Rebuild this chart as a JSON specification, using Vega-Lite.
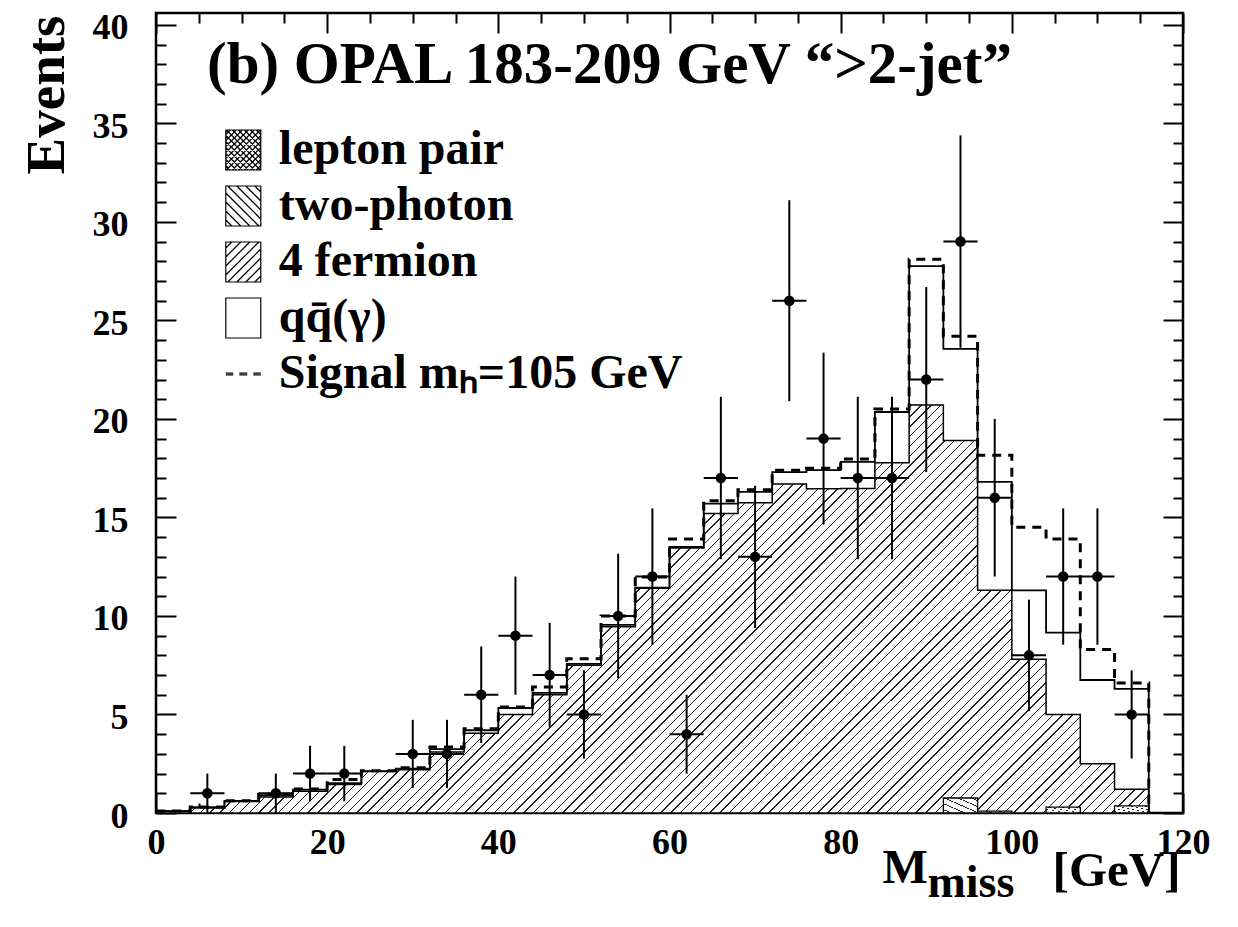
{
"$schema": "https://vega.github.io/schema/vega-lite/v6.json",
"width": 1027, "height": 800,
"autosize": {"type": "none"},
"padding": {"left": 156, "top": 13, "right": 55, "bottom": 114},
"background": "white",
"config": {
  "view": {"stroke": "black", "strokeWidth": 2.5},
  "axis": {"domain": false, "grid": false, "tickColor": "black", "tickWidth": 2, "labelFont": "Liberation Serif", "labelFontWeight": "bold", "labelColor": "black", "titleFont": "Liberation Serif", "titleFontWeight": "bold", "titleColor": "black", "labelFlush": false, "labelOverlap": false, "labelBound": false}
},
"title": {"text": "(b) OPAL 183-209 GeV “>2-jet”", "anchor": "start", "frame": "group", "offset": 0, "dx": 51, "dy": 132, "baseline": "alphabetic", "font": "Liberation Serif", "fontSize": 59, "fontWeight": "bold", "color": "black"},
"datasets": {
  "bins": [
    {"m": 0, "bkg4f": 0.1, "tot": 0.1, "sig": 0.1},
    {"m": 4, "bkg4f": 0.25, "tot": 0.3, "sig": 0.3},
    {"m": 8, "bkg4f": 0.58, "tot": 0.61, "sig": 0.62},
    {"m": 12, "bkg4f": 0.81, "tot": 0.9, "sig": 0.95},
    {"m": 16, "bkg4f": 1.1, "tot": 1.19, "sig": 1.22},
    {"m": 20, "bkg4f": 1.45, "tot": 1.52, "sig": 1.7},
    {"m": 24, "bkg4f": 2.1, "tot": 2.13, "sig": 2.15},
    {"m": 28, "bkg4f": 2.2, "tot": 2.25, "sig": 2.3},
    {"m": 32, "bkg4f": 3.1, "tot": 3.24, "sig": 3.35},
    {"m": 36, "bkg4f": 4.05, "tot": 4.2, "sig": 4.28},
    {"m": 40, "bkg4f": 5.0, "tot": 5.33, "sig": 5.38},
    {"m": 44, "bkg4f": 6.0, "tot": 6.1, "sig": 6.4},
    {"m": 48, "bkg4f": 7.5, "tot": 7.57, "sig": 7.83},
    {"m": 52, "bkg4f": 9.45, "tot": 9.55, "sig": 10.0},
    {"m": 56, "bkg4f": 11.4, "tot": 11.44, "sig": 11.98},
    {"m": 60, "bkg4f": 13.45, "tot": 13.5, "sig": 13.9},
    {"m": 64, "bkg4f": 15.2, "tot": 15.7, "sig": 15.85},
    {"m": 68, "bkg4f": 15.75, "tot": 16.3, "sig": 16.4},
    {"m": 72, "bkg4f": 16.7, "tot": 17.3, "sig": 17.4},
    {"m": 76, "bkg4f": 16.45, "tot": 17.4, "sig": 17.5},
    {"m": 80, "bkg4f": 16.47, "tot": 17.82, "sig": 17.97},
    {"m": 84, "bkg4f": 17.77, "tot": 20.35, "sig": 20.5},
    {"m": 88, "bkg4f": 20.7, "tot": 27.75, "sig": 28.1},
    {"m": 92, "bkg4f": 18.9, "tot": 23.55, "sig": 24.2},
    {"m": 96, "bkg4f": 11.3, "tot": 16.8, "sig": 18.15},
    {"m": 100, "bkg4f": 7.8, "tot": 11.3, "sig": 14.5},
    {"m": 104, "bkg4f": 5.0, "tot": 9.15, "sig": 13.9},
    {"m": 108, "bkg4f": 2.5, "tot": 6.75, "sig": 8.3},
    {"m": 112, "bkg4f": 1.2, "tot": 6.3, "sig": 6.6},
    {"m": 116, "bkg4f": 0, "tot": 0, "sig": 0}
  ],
  "gg": [
    {"lo": 92, "hi": 96, "val": 0.76},
    {"lo": 96, "hi": 100, "val": 0.1},
    {"lo": 104, "hi": 108, "val": 0.3},
    {"lo": 112, "hi": 116, "val": 0.36}
  ],
  "obs": [
    {"m": 6, "n": 1, "lo": 0, "hi": 2, "mlo": 4, "mhi": 8},
    {"m": 14, "n": 1, "lo": 0, "hi": 2, "mlo": 12, "mhi": 16},
    {"m": 18, "n": 2, "lo": 0.59, "hi": 3.41, "mlo": 16, "mhi": 20},
    {"m": 22, "n": 2, "lo": 0.59, "hi": 3.41, "mlo": 20, "mhi": 24},
    {"m": 30, "n": 3, "lo": 1.27, "hi": 4.73, "mlo": 28, "mhi": 32},
    {"m": 34, "n": 3, "lo": 1.27, "hi": 4.73, "mlo": 32, "mhi": 36},
    {"m": 38, "n": 6, "lo": 3.55, "hi": 8.45, "mlo": 36, "mhi": 40},
    {"m": 42, "n": 9, "lo": 6, "hi": 12, "mlo": 40, "mhi": 44},
    {"m": 46, "n": 7, "lo": 4.35, "hi": 9.65, "mlo": 44, "mhi": 48},
    {"m": 50, "n": 5, "lo": 2.76, "hi": 7.24, "mlo": 48, "mhi": 52},
    {"m": 54, "n": 10, "lo": 6.84, "hi": 13.16, "mlo": 52, "mhi": 56},
    {"m": 58, "n": 12, "lo": 8.54, "hi": 15.46, "mlo": 56, "mhi": 60},
    {"m": 62, "n": 4, "lo": 2, "hi": 6, "mlo": 60, "mhi": 64},
    {"m": 66, "n": 17, "lo": 12.88, "hi": 21.12, "mlo": 64, "mhi": 68},
    {"m": 70, "n": 13, "lo": 9.39, "hi": 16.61, "mlo": 68, "mhi": 72},
    {"m": 74, "n": 26, "lo": 20.9, "hi": 31.1, "mlo": 72, "mhi": 76},
    {"m": 78, "n": 19, "lo": 14.64, "hi": 23.36, "mlo": 76, "mhi": 80},
    {"m": 82, "n": 17, "lo": 12.88, "hi": 21.12, "mlo": 80, "mhi": 84},
    {"m": 86, "n": 17, "lo": 12.88, "hi": 21.12, "mlo": 84, "mhi": 88},
    {"m": 90, "n": 22, "lo": 17.31, "hi": 26.69, "mlo": 88, "mhi": 92},
    {"m": 94, "n": 29, "lo": 23.61, "hi": 34.39, "mlo": 92, "mhi": 96},
    {"m": 98, "n": 16, "lo": 12, "hi": 20, "mlo": 96, "mhi": 100},
    {"m": 102, "n": 8, "lo": 5.17, "hi": 10.83, "mlo": 100, "mhi": 104},
    {"m": 106, "n": 12, "lo": 8.54, "hi": 15.46, "mlo": 104, "mhi": 108},
    {"m": 110, "n": 12, "lo": 8.54, "hi": 15.46, "mlo": 108, "mhi": 112},
    {"m": 114, "n": 5, "lo": 2.76, "hi": 7.24, "mlo": 112, "mhi": 116}
  ],
  "legend": [
    {"comp": "lepton pair"}, {"comp": "two-photon"}, {"comp": "4 fermion"}, {"comp": "qq̄(γ)"}, {"comp": "Signal mₕ=105 GeV"}
  ]
},
"layer": [
  {
    "data": {"name": "bins"},
    "mark": {"type": "area", "interpolate": "step-after", "stroke": "black", "strokeWidth": 1.5,
      "fill": {"gradient": "linear", "x1": 0, "y1": 0, "x2": 1.2071, "y2": 0.496, "stops": [
{"offset":0,"color":"#fff"},
{"offset":0.280,"color":"#fff"},{"offset":0.280,"color":"#222"},{"offset":0.281,"color":"#222"},{"offset":0.281,"color":"#fff"},
{"offset":0.287,"color":"#fff"},{"offset":0.287,"color":"#222"},{"offset":0.288,"color":"#222"},{"offset":0.288,"color":"#fff"},
{"offset":0.294,"color":"#fff"},{"offset":0.294,"color":"#222"},{"offset":0.295,"color":"#222"},{"offset":0.295,"color":"#fff"},
{"offset":0.301,"color":"#fff"},{"offset":0.301,"color":"#222"},{"offset":0.302,"color":"#222"},{"offset":0.302,"color":"#fff"},
{"offset":0.308,"color":"#fff"},{"offset":0.308,"color":"#222"},{"offset":0.309,"color":"#222"},{"offset":0.309,"color":"#fff"},
{"offset":0.315,"color":"#fff"},{"offset":0.315,"color":"#222"},{"offset":0.316,"color":"#222"},{"offset":0.316,"color":"#fff"},
{"offset":0.322,"color":"#fff"},{"offset":0.322,"color":"#222"},{"offset":0.323,"color":"#222"},{"offset":0.323,"color":"#fff"},
{"offset":0.329,"color":"#fff"},{"offset":0.329,"color":"#222"},{"offset":0.330,"color":"#222"},{"offset":0.330,"color":"#fff"},
{"offset":0.336,"color":"#fff"},{"offset":0.336,"color":"#222"},{"offset":0.337,"color":"#222"},{"offset":0.337,"color":"#fff"},
{"offset":0.343,"color":"#fff"},{"offset":0.343,"color":"#222"},{"offset":0.344,"color":"#222"},{"offset":0.344,"color":"#fff"},
{"offset":0.350,"color":"#fff"},{"offset":0.350,"color":"#222"},{"offset":0.351,"color":"#222"},{"offset":0.351,"color":"#fff"},
{"offset":0.357,"color":"#fff"},{"offset":0.357,"color":"#222"},{"offset":0.358,"color":"#222"},{"offset":0.358,"color":"#fff"},
{"offset":0.364,"color":"#fff"},{"offset":0.364,"color":"#222"},{"offset":0.365,"color":"#222"},{"offset":0.365,"color":"#fff"},
{"offset":0.371,"color":"#fff"},{"offset":0.371,"color":"#222"},{"offset":0.372,"color":"#222"},{"offset":0.372,"color":"#fff"},
{"offset":0.378,"color":"#fff"},{"offset":0.378,"color":"#222"},{"offset":0.379,"color":"#222"},{"offset":0.379,"color":"#fff"},
{"offset":0.385,"color":"#fff"},{"offset":0.385,"color":"#222"},{"offset":0.386,"color":"#222"},{"offset":0.386,"color":"#fff"},
{"offset":0.392,"color":"#fff"},{"offset":0.392,"color":"#222"},{"offset":0.393,"color":"#222"},{"offset":0.393,"color":"#fff"},
{"offset":0.399,"color":"#fff"},{"offset":0.399,"color":"#222"},{"offset":0.400,"color":"#222"},{"offset":0.400,"color":"#fff"},
{"offset":0.406,"color":"#fff"},{"offset":0.406,"color":"#222"},{"offset":0.407,"color":"#222"},{"offset":0.407,"color":"#fff"},
{"offset":0.413,"color":"#fff"},{"offset":0.413,"color":"#222"},{"offset":0.414,"color":"#222"},{"offset":0.414,"color":"#fff"},
{"offset":0.420,"color":"#fff"},{"offset":0.420,"color":"#222"},{"offset":0.421,"color":"#222"},{"offset":0.421,"color":"#fff"},
{"offset":0.427,"color":"#fff"},{"offset":0.427,"color":"#222"},{"offset":0.428,"color":"#222"},{"offset":0.428,"color":"#fff"},
{"offset":0.434,"color":"#fff"},{"offset":0.434,"color":"#222"},{"offset":0.435,"color":"#222"},{"offset":0.435,"color":"#fff"},
{"offset":0.441,"color":"#fff"},{"offset":0.441,"color":"#222"},{"offset":0.442,"color":"#222"},{"offset":0.442,"color":"#fff"},
{"offset":0.448,"color":"#fff"},{"offset":0.448,"color":"#222"},{"offset":0.449,"color":"#222"},{"offset":0.449,"color":"#fff"},
{"offset":0.455,"color":"#fff"},{"offset":0.455,"color":"#222"},{"offset":0.456,"color":"#222"},{"offset":0.456,"color":"#fff"},
{"offset":0.462,"color":"#fff"},{"offset":0.462,"color":"#222"},{"offset":0.463,"color":"#222"},{"offset":0.463,"color":"#fff"},
{"offset":0.469,"color":"#fff"},{"offset":0.469,"color":"#222"},{"offset":0.470,"color":"#222"},{"offset":0.470,"color":"#fff"},
{"offset":0.476,"color":"#fff"},{"offset":0.476,"color":"#222"},{"offset":0.477,"color":"#222"},{"offset":0.477,"color":"#fff"},
{"offset":0.483,"color":"#fff"},{"offset":0.483,"color":"#222"},{"offset":0.484,"color":"#222"},{"offset":0.484,"color":"#fff"},
{"offset":0.490,"color":"#fff"},{"offset":0.490,"color":"#222"},{"offset":0.491,"color":"#222"},{"offset":0.491,"color":"#fff"},
{"offset":0.497,"color":"#fff"},{"offset":0.497,"color":"#222"},{"offset":0.498,"color":"#222"},{"offset":0.498,"color":"#fff"},
{"offset":0.504,"color":"#fff"},{"offset":0.504,"color":"#222"},{"offset":0.505,"color":"#222"},{"offset":0.505,"color":"#fff"},
{"offset":0.511,"color":"#fff"},{"offset":0.511,"color":"#222"},{"offset":0.512,"color":"#222"},{"offset":0.512,"color":"#fff"},
{"offset":0.518,"color":"#fff"},{"offset":0.518,"color":"#222"},{"offset":0.519,"color":"#222"},{"offset":0.519,"color":"#fff"},
{"offset":0.525,"color":"#fff"},{"offset":0.525,"color":"#222"},{"offset":0.526,"color":"#222"},{"offset":0.526,"color":"#fff"},
{"offset":0.532,"color":"#fff"},{"offset":0.532,"color":"#222"},{"offset":0.533,"color":"#222"},{"offset":0.533,"color":"#fff"},
{"offset":0.539,"color":"#fff"},{"offset":0.539,"color":"#222"},{"offset":0.540,"color":"#222"},{"offset":0.540,"color":"#fff"},
{"offset":0.546,"color":"#fff"},{"offset":0.546,"color":"#222"},{"offset":0.547,"color":"#222"},{"offset":0.547,"color":"#fff"},
{"offset":0.553,"color":"#fff"},{"offset":0.553,"color":"#222"},{"offset":0.554,"color":"#222"},{"offset":0.554,"color":"#fff"},
{"offset":0.560,"color":"#fff"},{"offset":0.560,"color":"#222"},{"offset":0.561,"color":"#222"},{"offset":0.561,"color":"#fff"},
{"offset":0.567,"color":"#fff"},{"offset":0.567,"color":"#222"},{"offset":0.568,"color":"#222"},{"offset":0.568,"color":"#fff"},
{"offset":0.574,"color":"#fff"},{"offset":0.574,"color":"#222"},{"offset":0.575,"color":"#222"},{"offset":0.575,"color":"#fff"},
{"offset":0.581,"color":"#fff"},{"offset":0.581,"color":"#222"},{"offset":0.582,"color":"#222"},{"offset":0.582,"color":"#fff"},
{"offset":0.588,"color":"#fff"},{"offset":0.588,"color":"#222"},{"offset":0.589,"color":"#222"},{"offset":0.589,"color":"#fff"},
{"offset":0.595,"color":"#fff"},{"offset":0.595,"color":"#222"},{"offset":0.596,"color":"#222"},{"offset":0.596,"color":"#fff"},
{"offset":0.602,"color":"#fff"},{"offset":0.602,"color":"#222"},{"offset":0.603,"color":"#222"},{"offset":0.603,"color":"#fff"},
{"offset":0.609,"color":"#fff"},{"offset":0.609,"color":"#222"},{"offset":0.610,"color":"#222"},{"offset":0.610,"color":"#fff"},
{"offset":0.616,"color":"#fff"},{"offset":0.616,"color":"#222"},{"offset":0.617,"color":"#222"},{"offset":0.617,"color":"#fff"},
{"offset":0.623,"color":"#fff"},{"offset":0.623,"color":"#222"},{"offset":0.624,"color":"#222"},{"offset":0.624,"color":"#fff"},
{"offset":0.630,"color":"#fff"},{"offset":0.630,"color":"#222"},{"offset":0.631,"color":"#222"},{"offset":0.631,"color":"#fff"},
{"offset":0.637,"color":"#fff"},{"offset":0.637,"color":"#222"},{"offset":0.638,"color":"#222"},{"offset":0.638,"color":"#fff"},
{"offset":0.644,"color":"#fff"},{"offset":0.644,"color":"#222"},{"offset":0.645,"color":"#222"},{"offset":0.645,"color":"#fff"},
{"offset":0.651,"color":"#fff"},{"offset":0.651,"color":"#222"},{"offset":0.652,"color":"#222"},{"offset":0.652,"color":"#fff"},
{"offset":0.658,"color":"#fff"},{"offset":0.658,"color":"#222"},{"offset":0.659,"color":"#222"},{"offset":0.659,"color":"#fff"},
{"offset":0.665,"color":"#fff"},{"offset":0.665,"color":"#222"},{"offset":0.666,"color":"#222"},{"offset":0.666,"color":"#fff"},
{"offset":0.672,"color":"#fff"},{"offset":0.672,"color":"#222"},{"offset":0.673,"color":"#222"},{"offset":0.673,"color":"#fff"},
{"offset":0.679,"color":"#fff"},{"offset":0.679,"color":"#222"},{"offset":0.680,"color":"#222"},{"offset":0.680,"color":"#fff"},
{"offset":0.686,"color":"#fff"},{"offset":0.686,"color":"#222"},{"offset":0.687,"color":"#222"},{"offset":0.687,"color":"#fff"},
{"offset":0.693,"color":"#fff"},{"offset":0.693,"color":"#222"},{"offset":0.694,"color":"#222"},{"offset":0.694,"color":"#fff"},
{"offset":0.700,"color":"#fff"},{"offset":0.700,"color":"#222"},{"offset":0.701,"color":"#222"},{"offset":0.701,"color":"#fff"},
{"offset":0.707,"color":"#fff"},{"offset":0.707,"color":"#222"},{"offset":0.708,"color":"#222"},{"offset":0.708,"color":"#fff"},
{"offset":0.714,"color":"#fff"},{"offset":0.714,"color":"#222"},{"offset":0.715,"color":"#222"},{"offset":0.715,"color":"#fff"},
{"offset":0.721,"color":"#fff"},{"offset":0.721,"color":"#222"},{"offset":0.722,"color":"#222"},{"offset":0.722,"color":"#fff"},
{"offset":0.728,"color":"#fff"},{"offset":0.728,"color":"#222"},{"offset":0.729,"color":"#222"},{"offset":0.729,"color":"#fff"},
{"offset":0.735,"color":"#fff"},{"offset":0.735,"color":"#222"},{"offset":0.736,"color":"#222"},{"offset":0.736,"color":"#fff"},
{"offset":0.742,"color":"#fff"},{"offset":0.742,"color":"#222"},{"offset":0.743,"color":"#222"},{"offset":0.743,"color":"#fff"},
{"offset":0.749,"color":"#fff"},{"offset":0.749,"color":"#222"},{"offset":0.750,"color":"#222"},{"offset":0.750,"color":"#fff"},
{"offset":0.756,"color":"#fff"},{"offset":0.756,"color":"#222"},{"offset":0.757,"color":"#222"},{"offset":0.757,"color":"#fff"},
{"offset":0.763,"color":"#fff"},{"offset":0.763,"color":"#222"},{"offset":0.764,"color":"#222"},{"offset":0.764,"color":"#fff"},
{"offset":0.770,"color":"#fff"},{"offset":0.770,"color":"#222"},{"offset":0.771,"color":"#222"},{"offset":0.771,"color":"#fff"},
{"offset":0.777,"color":"#fff"},{"offset":0.777,"color":"#222"},{"offset":0.778,"color":"#222"},{"offset":0.778,"color":"#fff"},
{"offset":0.784,"color":"#fff"},{"offset":0.784,"color":"#222"},{"offset":0.785,"color":"#222"},{"offset":0.785,"color":"#fff"},
{"offset":0.791,"color":"#fff"},{"offset":0.791,"color":"#222"},{"offset":0.792,"color":"#222"},{"offset":0.792,"color":"#fff"},
{"offset":0.798,"color":"#fff"},{"offset":0.798,"color":"#222"},{"offset":0.799,"color":"#222"},{"offset":0.799,"color":"#fff"},
{"offset":0.805,"color":"#fff"},{"offset":0.805,"color":"#222"},{"offset":0.806,"color":"#222"},{"offset":0.806,"color":"#fff"},
{"offset":0.812,"color":"#fff"},{"offset":0.812,"color":"#222"},{"offset":0.813,"color":"#222"},{"offset":0.813,"color":"#fff"},
{"offset":0.819,"color":"#fff"},{"offset":0.819,"color":"#222"},{"offset":0.820,"color":"#222"},{"offset":0.820,"color":"#fff"},
{"offset":0.826,"color":"#fff"},{"offset":0.826,"color":"#222"},{"offset":0.827,"color":"#222"},{"offset":0.827,"color":"#fff"},
{"offset":0.833,"color":"#fff"},{"offset":0.833,"color":"#222"},{"offset":0.834,"color":"#222"},{"offset":0.834,"color":"#fff"},
{"offset":0.840,"color":"#fff"},{"offset":0.840,"color":"#222"},{"offset":0.841,"color":"#222"},{"offset":0.841,"color":"#fff"},
{"offset":0.847,"color":"#fff"},{"offset":0.847,"color":"#222"},{"offset":0.848,"color":"#222"},{"offset":0.848,"color":"#fff"},
{"offset":0.854,"color":"#fff"},{"offset":0.854,"color":"#222"},{"offset":0.855,"color":"#222"},{"offset":0.855,"color":"#fff"},
{"offset":0.861,"color":"#fff"},{"offset":0.861,"color":"#222"},{"offset":0.862,"color":"#222"},{"offset":0.862,"color":"#fff"},
{"offset":0.868,"color":"#fff"},{"offset":0.868,"color":"#222"},{"offset":0.869,"color":"#222"},{"offset":0.869,"color":"#fff"},
{"offset":0.875,"color":"#fff"},{"offset":0.875,"color":"#222"},{"offset":0.876,"color":"#222"},{"offset":0.876,"color":"#fff"},
{"offset":0.882,"color":"#fff"},{"offset":0.882,"color":"#222"},{"offset":0.883,"color":"#222"},{"offset":0.883,"color":"#fff"},
{"offset":0.889,"color":"#fff"},{"offset":0.889,"color":"#222"},{"offset":0.890,"color":"#222"},{"offset":0.890,"color":"#fff"},
{"offset":0.896,"color":"#fff"},{"offset":0.896,"color":"#222"},{"offset":0.897,"color":"#222"},{"offset":0.897,"color":"#fff"},
{"offset":0.903,"color":"#fff"},{"offset":0.903,"color":"#222"},{"offset":0.904,"color":"#222"},{"offset":0.904,"color":"#fff"},
{"offset":0.910,"color":"#fff"},{"offset":0.910,"color":"#222"},{"offset":0.911,"color":"#222"},{"offset":0.911,"color":"#fff"},
{"offset":0.917,"color":"#fff"},{"offset":0.917,"color":"#222"},{"offset":0.918,"color":"#222"},{"offset":0.918,"color":"#fff"},
{"offset":0.924,"color":"#fff"},{"offset":0.924,"color":"#222"},{"offset":0.925,"color":"#222"},{"offset":0.925,"color":"#fff"},
{"offset":0.931,"color":"#fff"},{"offset":0.931,"color":"#222"},{"offset":0.932,"color":"#222"},{"offset":0.932,"color":"#fff"},
{"offset":0.938,"color":"#fff"},{"offset":0.938,"color":"#222"},{"offset":0.939,"color":"#222"},{"offset":0.939,"color":"#fff"},
{"offset":0.945,"color":"#fff"},{"offset":0.945,"color":"#222"},{"offset":0.946,"color":"#222"},{"offset":0.946,"color":"#fff"},
{"offset":0.952,"color":"#fff"},{"offset":0.952,"color":"#222"},{"offset":0.953,"color":"#222"},{"offset":0.953,"color":"#fff"},
{"offset":0.959,"color":"#fff"},{"offset":0.959,"color":"#222"},{"offset":0.960,"color":"#222"},{"offset":0.960,"color":"#fff"},
{"offset":0.966,"color":"#fff"},{"offset":0.966,"color":"#222"},{"offset":0.967,"color":"#222"},{"offset":0.967,"color":"#fff"},
{"offset":0.973,"color":"#fff"},{"offset":0.973,"color":"#222"},{"offset":0.974,"color":"#222"},{"offset":0.974,"color":"#fff"},
{"offset":0.980,"color":"#fff"},{"offset":0.980,"color":"#222"},{"offset":0.981,"color":"#222"},{"offset":0.981,"color":"#fff"},
{"offset":0.987,"color":"#fff"},{"offset":0.987,"color":"#222"},{"offset":0.988,"color":"#222"},{"offset":0.988,"color":"#fff"},
{"offset":0.994,"color":"#fff"},{"offset":0.994,"color":"#222"},{"offset":0.995,"color":"#222"},{"offset":0.995,"color":"#fff"},
{"offset":1,"color":"#fff"}
      ]}},
    "encoding": {
      "x": {"field": "m", "type": "quantitative", "scale": {"domain": [0, 120], "nice": false, "zero": false},
        "axis": {"orient": "bottom", "values": [0,5,10,15,20,25,30,35,40,45,50,55,60,65,70,75,80,85,90,95,100,105,110,115,120],
          "labelExpr": "datum.value % 20 === 0 ? datum.label : ''",
          "tickSize": {"condition": {"test": "datum.value % 20 === 0", "value": -20}, "value": -10},
          "labelPadding": 32.5, "labelFontSize": 36, "labelAlign": "center", "labelBaseline": "top",
          "title": "M", "titleFontSize": 48, "titleX": 726, "titleY": 69, "titleAlign": "left", "titleBaseline": "alphabetic", "titleAngle": 0}},
      "y": {"field": "bkg4f", "type": "quantitative", "scale": {"domain": [0, 40.6], "nice": false, "zero": false},
        "axis": {"orient": "left", "values": [0,1,2,3,4,5,6,7,8,9,10,11,12,13,14,15,16,17,18,19,20,21,22,23,24,25,26,27,28,29,30,31,32,33,34,35,36,37,38,39,40],
          "labelExpr": "datum.value % 5 === 0 ? datum.label : ''",
          "tickSize": {"condition": {"test": "datum.value % 5 === 0", "value": -20}, "value": -10},
          "labelPadding": 48, "labelFontSize": 36, "labelAlign": "right", "labelBaseline": "middle", "labelOffset": 3,
          "title": "Events", "titleFontSize": 55, "titleAngle": -90, "titleX": -93, "titleY": 81.5, "titleAlign": "center", "titleBaseline": "alphabetic"}}
    }
  },
  {
    "data": {"name": "gg"},
    "mark": {"type": "rect", "stroke": "black", "strokeWidth": 1.3,
      "fill": {"gradient": "linear", "x1": 0, "y1": 1, "x2": 1, "y2": 0, "stops": [
        {"offset":0,"color":"#fff"},
        {"offset":0.1,"color":"#fff"},{"offset":0.1,"color":"#222"},{"offset":0.13,"color":"#222"},{"offset":0.13,"color":"#fff"},
        {"offset":0.3,"color":"#fff"},{"offset":0.3,"color":"#222"},{"offset":0.33,"color":"#222"},{"offset":0.33,"color":"#fff"},
        {"offset":0.5,"color":"#fff"},{"offset":0.5,"color":"#222"},{"offset":0.53,"color":"#222"},{"offset":0.53,"color":"#fff"},
        {"offset":0.7,"color":"#fff"},{"offset":0.7,"color":"#222"},{"offset":0.73,"color":"#222"},{"offset":0.73,"color":"#fff"},
        {"offset":0.9,"color":"#fff"},{"offset":0.9,"color":"#222"},{"offset":0.93,"color":"#222"},{"offset":0.93,"color":"#fff"},
        {"offset":1,"color":"#fff"}]}},
    "encoding": {
      "x": {"field": "lo", "type": "quantitative", "scale": {"domain": [0, 120], "nice": false, "zero": false},
        "axis": {"orient": "bottom", "ticks": false, "labels": false, "title": "[GeV]", "titleFontSize": 49, "titleX": 1024, "titleY": 72, "titleAlign": "right", "titleBaseline": "alphabetic", "titleAngle": 0}},
      "x2": {"field": "hi"},
      "y": {"field": "val", "type": "quantitative", "scale": {"domain": [0, 40.6], "nice": false, "zero": false}, "axis": null},
      "y2": {"datum": 0}
    }
  },
  {
    "data": {"name": "bins"},
    "mark": {"type": "line", "interpolate": "step-after", "color": "black", "strokeWidth": 1.8},
    "encoding": {
      "x": {"field": "m", "type": "quantitative", "scale": {"domain": [0, 120], "nice": false, "zero": false},
        "axis": {"orient": "top", "values": [0,5,10,15,20,25,30,35,40,45,50,55,60,65,70,75,80,85,90,95,100,105,110,115,120], "labels": false, "title": null,
          "tickSize": {"condition": {"test": "datum.value % 20 === 0", "value": -20}, "value": -10}}},
      "y": {"field": "tot", "type": "quantitative", "scale": {"domain": [0, 40.6], "nice": false, "zero": false},
        "axis": {"orient": "right", "values": [0,1,2,3,4,5,6,7,8,9,10,11,12,13,14,15,16,17,18,19,20,21,22,23,24,25,26,27,28,29,30,31,32,33,34,35,36,37,38,39,40], "labels": false, "title": null,
          "tickSize": {"condition": {"test": "datum.value % 5 === 0", "value": -20}, "value": -10}}}
    }
  },
  {
    "data": {"name": "bins"},
    "mark": {"type": "line", "interpolate": "step-after", "color": "black", "strokeWidth": 3, "strokeDash": [9, 7]},
    "encoding": {
      "x": {"field": "m", "type": "quantitative", "scale": {"domain": [0, 120], "nice": false, "zero": false},
        "axis": {"orient": "bottom", "ticks": false, "labels": false, "title": "miss", "titleFontSize": 46, "titleX": 771, "titleY": 83, "titleAlign": "left", "titleBaseline": "alphabetic", "titleAngle": 0}},
      "y": {"field": "sig", "type": "quantitative", "scale": {"domain": [0, 40.6], "nice": false, "zero": false}, "axis": null}
    }
  },
  {
    "data": {"name": "obs"},
    "mark": {"type": "rule", "color": "black", "strokeWidth": 2},
    "encoding": {
      "x": {"field": "m", "type": "quantitative", "scale": {"domain": [0, 120], "nice": false, "zero": false}, "axis": null},
      "y": {"field": "lo", "type": "quantitative", "scale": {"domain": [0, 40.6], "nice": false, "zero": false}, "axis": null},
      "y2": {"field": "hi"}
    }
  },
  {
    "data": {"name": "obs"},
    "mark": {"type": "rule", "color": "black", "strokeWidth": 2},
    "encoding": {
      "x": {"field": "mlo", "type": "quantitative", "scale": {"domain": [0, 120], "nice": false, "zero": false}, "axis": null},
      "x2": {"field": "mhi"},
      "y": {"field": "n", "type": "quantitative", "scale": {"domain": [0, 40.6], "nice": false, "zero": false}, "axis": null}
    }
  },
  {
    "data": {"name": "obs"},
    "mark": {"type": "point", "filled": true, "color": "black", "size": 110, "opacity": 1},
    "encoding": {
      "x": {"field": "m", "type": "quantitative", "scale": {"domain": [0, 120], "nice": false, "zero": false}, "axis": null},
      "y": {"field": "n", "type": "quantitative", "scale": {"domain": [0, 40.6], "nice": false, "zero": false}, "axis": null}
    }
  },
  {
    "data": {"name": "legend"},
    "mark": {"type": "point", "filled": true, "fill": "white", "stroke": "black", "strokeWidth": 1.2, "opacity": 1, "size": 1600},
    "encoding": {
      "x": {"datum": 10.2, "type": "quantitative", "scale": {"domain": [0, 120], "nice": false, "zero": false}, "axis": null},
      "y": {"field": "comp", "type": "nominal", "sort": null, "axis": null,
        "scale": {"domain": ["lepton pair", "two-photon", "4 fermion", "qq̄(γ)", "Signal mₕ=105 GeV"], "range": [137, 361], "padding": 0}},
      "shape": {"field": "comp", "type": "nominal", "legend": null,
        "scale": {"domain": ["lepton pair", "two-photon", "4 fermion", "qq̄(γ)", "Signal mₕ=105 GeV"],
          "range": [
            "M-0.875,-1H0.875V1H-0.875ZM-0.875,-0.775L-0.65,-1M-0.875,-0.475L-0.35,-1M-0.875,-0.175L-0.05,-1M-0.875,0.125L0.25,-1M-0.875,0.425L0.55,-1M-0.875,0.725L0.85,-1M-0.85,1L0.875,-0.725M-0.55,1L0.875,-0.425M-0.25,1L0.875,-0.125M0.05,1L0.875,0.175M0.35,1L0.875,0.475M0.65,1L0.875,0.775M0.875,-0.775L0.65,-1M0.875,-0.475L0.35,-1M0.875,-0.175L0.05,-1M0.875,0.125L-0.25,-1M0.875,0.425L-0.55,-1M0.875,0.725L-0.85,-1M0.85,1L-0.875,-0.725M0.55,1L-0.875,-0.425M0.25,1L-0.875,-0.125M-0.05,1L-0.875,0.175M-0.35,1L-0.875,0.475M-0.65,1L-0.875,0.775",
            "M-0.875,-1H0.875V1H-0.875ZM0.875,-0.7L0.575,-1M0.875,-0.25L0.125,-1M0.875,0.2L-0.325,-1M0.875,0.65L-0.775,-1M0.775,1L-0.875,-0.65M0.325,1L-0.875,-0.2M-0.125,1L-0.875,0.25M-0.575,1L-0.875,0.7",
            "M-0.875,-1H0.875V1H-0.875ZM-0.875,-0.7L-0.575,-1M-0.875,-0.25L-0.125,-1M-0.875,0.2L0.325,-1M-0.875,0.65L0.775,-1M-0.775,1L0.875,-0.65M-0.325,1L0.875,-0.2M0.125,1L0.875,0.25M0.575,1L0.875,0.7",
            "M-0.875,-1H0.875V1H-0.875Z",
            "M-0.875,-0.04H-0.5M-0.875,0.04H-0.5M-0.2,-0.04H0.2M-0.2,0.04H0.2M0.5,-0.04H0.875M0.5,0.04H0.875"
          ]}}
    }
  },
  {
    "data": {"name": "legend"},
    "mark": {"type": "text", "align": "left", "baseline": "middle", "font": "Liberation Serif", "fontSize": 48, "fontWeight": "bold", "color": "black"},
    "encoding": {
      "x": {"datum": 14.35, "type": "quantitative", "scale": {"domain": [0, 120], "nice": false, "zero": false}, "axis": null},
      "y": {"field": "comp", "type": "nominal", "sort": null, "axis": null,
        "scale": {"domain": ["lepton pair", "two-photon", "4 fermion", "qq̄(γ)", "Signal mₕ=105 GeV"], "range": [137, 361], "padding": 0}},
      "text": {"field": "comp", "type": "nominal"}
    }
  }
],
"resolve": {"scale": {"y": "independent"}, "axis": {"x": "independent", "y": "independent"}}
}
